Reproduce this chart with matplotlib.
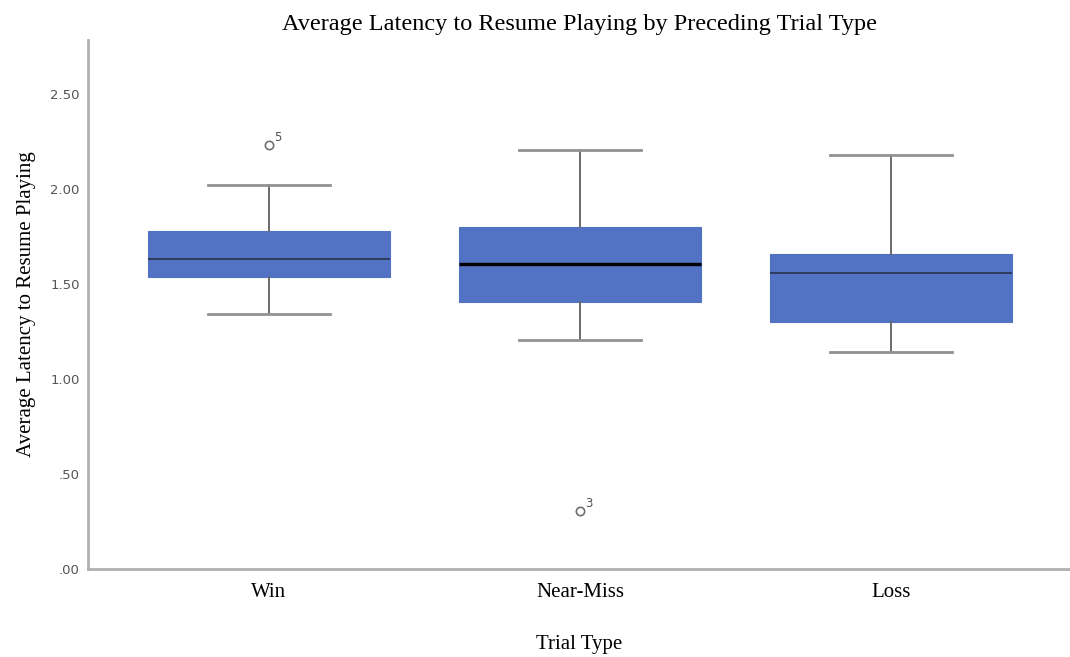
import matplotlib.pyplot as plt

# summary stats per trial type
trial_types = ["Win", "Near-Miss", "Loss"]
q1 = [1.535, 1.405, 1.300]
med = [1.630, 1.605, 1.558]
q3 = [1.778, 1.800, 1.658]
whislo = [1.342, 1.205, 1.142]
whishi = [2.020, 2.205, 2.178]
outliers = [[2.230], [0.305], []]
outlier_ids = [["5"], ["3"], []]

yticks = [0.0, 0.5, 1.0, 1.5, 2.0, 2.5]
ytick_labels = [".00", ".50", "1.00", "1.50", "2.00", "2.50"]

stats = []
for i in range(len(trial_types)):
    stats.append(dict(label=trial_types[i], q1=q1[i], med=med[i], q3=q3[i],
                      whislo=whislo[i], whishi=whishi[i], fliers=outliers[i]))

fig = plt.figure(figsize=(10.7, 6.57), dpi=100)
ax = fig.add_axes([0.0822, 0.134, 0.918, 0.805])

bp = ax.bxp(stats, positions=range(len(trial_types)), widths=0.78,
            patch_artist=True, showfliers=True,
            boxprops=dict(facecolor="#5272c3", edgecolor="#5272c3", linewidth=0.8),
            medianprops=dict(color="#27324f", linewidth=1.2),
            whiskerprops=dict(color="#6a6a6a", linewidth=1.4),
            capprops=dict(color="#929292", linewidth=2.0),
            capwidths=0.39,
            flierprops=dict(marker="o", markersize=6, markerfacecolor="none",
                            markeredgecolor="#707070", markeredgewidth=1.2))
bp["medians"][1].set_color("black")
bp["medians"][1].set_linewidth(2.4)

# case numbers next to outliers
for i, (vals, ids) in enumerate(zip(outliers, outlier_ids)):
    for v, n in zip(vals, ids):
        ax.annotate(n, (i, v), xytext=(4, 3), textcoords="offset points",
                    fontsize=8.5, color="#505050", fontfamily="DejaVu Sans")

ax.set_xlim(-0.582, 2.576)
ax.set_ylim(0, 2.785)
ax.set_yticks(yticks)
ax.set_yticklabels(ytick_labels, fontsize=9.5, color="#555555", fontfamily="DejaVu Sans")
ax.tick_params(axis="y", length=0, pad=6)
ax.tick_params(axis="x", length=0, pad=10)
ax.set_xticks(range(len(trial_types)))
ax.set_xticklabels(trial_types, fontsize=15, fontfamily="Liberation Serif")

for side in ["top", "right"]:
    ax.spines[side].set_visible(False)
for side in ["left", "bottom"]:
    ax.spines[side].set_color("#b0b0b0")
    ax.spines[side].set_linewidth(2.0)

ax.set_title("Average Latency to Resume Playing by Preceding Trial Type",
             fontsize=17.5, fontfamily="Liberation Serif", pad=7)
ax.set_xlabel("Trial Type", fontsize=15, fontfamily="Liberation Serif", labelpad=24)
ax.set_ylabel("Average Latency to Resume Playing", fontsize=15,
              fontfamily="Liberation Serif", labelpad=10)

fig.savefig("out.png", dpi=100)
